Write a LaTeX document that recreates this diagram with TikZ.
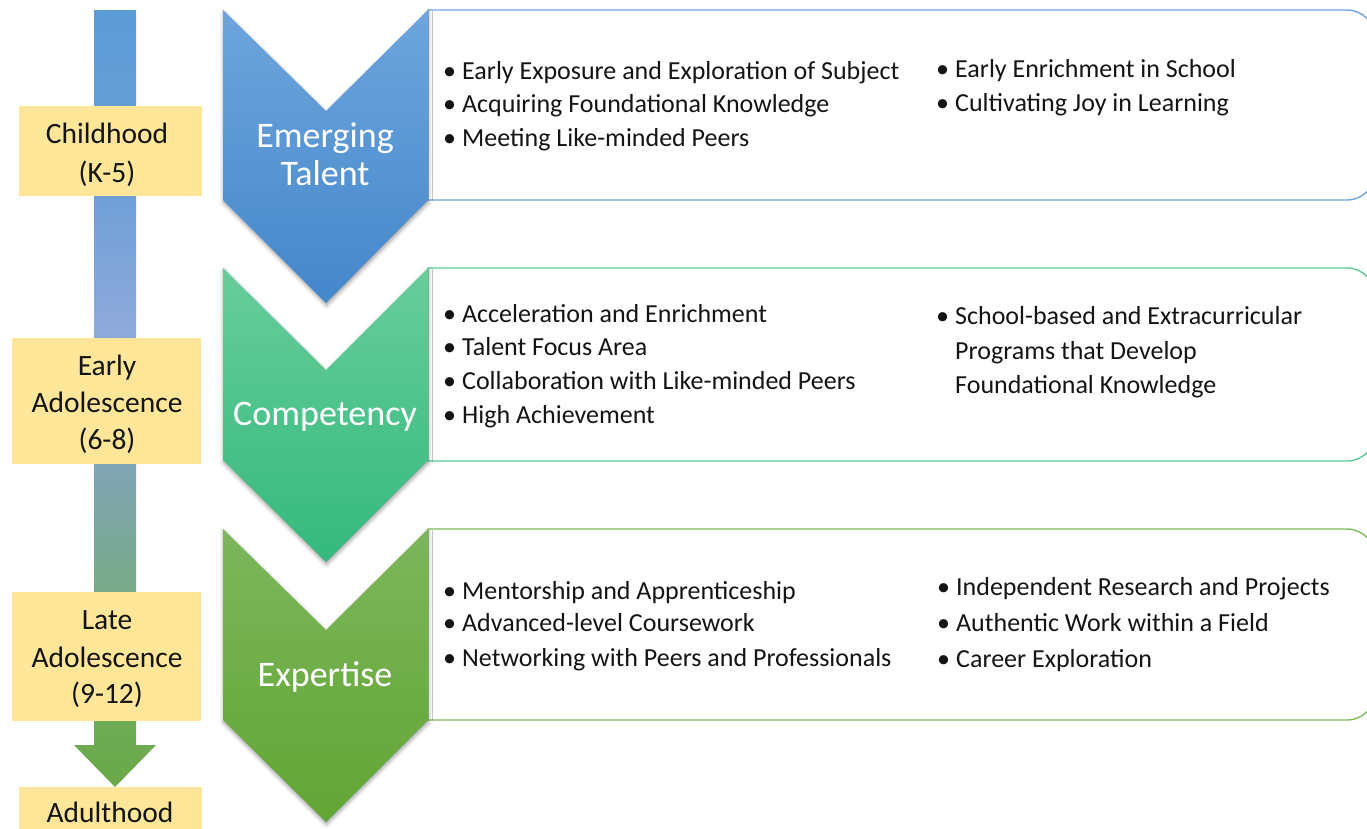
\documentclass[tikz,border=0pt]{standalone}
\usepackage{fontspec}
\setmainfont{Carlito}
\usetikzlibrary{shadows.blur}
\definecolor{barB}{RGB}{91,155,213}
\definecolor{barB2}{RGB}{112,160,215}
\definecolor{barL}{RGB}{142,169,219}
\definecolor{barT}{RGB}{128,165,180}
\definecolor{barTG}{RGB}{122,170,140}
\definecolor{barG2}{RGB}{112,172,90}
\definecolor{barG}{RGB}{106,168,72}
\definecolor{emerTop}{RGB}{110,165,220}
\definecolor{emerBot}{RGB}{68,135,203}
\definecolor{compTop}{RGB}{104,205,155}
\definecolor{compBot}{RGB}{52,185,125}
\definecolor{expTop}{RGB}{125,182,92}
\definecolor{expBot}{RGB}{98,165,52}
\definecolor{emerLine}{RGB}{110,165,220}
\definecolor{compLine}{RGB}{95,200,150}
\definecolor{expLine}{RGB}{125,190,95}
\definecolor{ylw}{RGB}{255,230,153}
\definecolor{txt}{RGB}{20,20,20}
\pgfdeclareverticalshading{barshade}{100bp}{color(0bp)=(barG); color(25bp)=(barG); color(30.6bp)=(barG2); color(38.3bp)=(barTG); color(45.4bp)=(barT); color(54.4bp)=(barL); color(63.1bp)=(barB2); color(75bp)=(barB); color(100bp)=(barB)}
\newcommand\mybullet{\makebox[19pt][l]{•}}
\begin{document}
\begin{tikzpicture}[x=1pt,y=-1pt,
  chev/.style={blur shadow={shadow xshift=0.5pt, shadow yshift=-2.5pt, shadow blur radius=4pt, shadow opacity=40}},
  boxline/.style={line width=1.4pt, fill=white},
  ybox/.style={fill=ylw, draw=none, inner sep=0pt, anchor=north west},
  lbl/.style={font=\fontsize{29.5}{30}\selectfont, text=txt, anchor=base, inner sep=0pt},
  chevtxt/.style={font=\fontsize{36}{36}\selectfont, text=white, anchor=base, inner sep=0pt},
  body/.style={font=\fontsize{26}{26}\selectfont, text=txt, anchor=base west, inner sep=0pt}]
\useasboundingbox (0,0) rectangle (1367,828);
\clip (0,0) rectangle (1367,828);

% timeline arrow
\shade[shading=barshade] (94,10) -- (136,10) -- (136,745) -- (156,745) -- (115,787) -- (74,745) -- (94,745) -- cycle;

% stage boxes
\node[ybox, minimum width=183pt, minimum height=90pt] (childbox) at (19,106) {};
\node[ybox, minimum width=189pt, minimum height=126pt] (earlybox) at (12,338) {};
\node[ybox, minimum width=189pt, minimum height=129pt] (latebox) at (12,592) {};
\node[ybox, minimum width=183pt, minimum height=60pt] (adultbox) at (19,787) {};

\node[lbl] (child1) at (107,143) {Childhood};
\node[lbl] (child2) at (107,182) {(K-5)};
\node[lbl] (early1) at (107,375) {Early};
\node[lbl] (early2) at (107,412) {Adolescence};
\node[lbl] (early3) at (107,449) {(6-8)};
\node[lbl] (late1) at (107,629) {Late};
\node[lbl] (late2) at (107,667) {Adolescence};
\node[lbl] (late3) at (107,703) {(9-12)};
\node[lbl] (adult) at (110,822) {Adulthood};

% content boxes
\draw[boxline, draw=emerLine] (428,10) -- (1347,10) arc(-90:0:28) -- (1375,172) arc(0:90:28) -- (428,200) -- cycle;
\draw[boxline, draw=compLine] (428,268) -- (1347,268) arc(-90:0:28) -- (1375,433) arc(0:90:28) -- (428,461) -- cycle;
\draw[boxline, draw=expLine] (428,529) -- (1347,529) arc(-90:0:28) -- (1375,692) arc(0:90:28) -- (428,720) -- cycle;

% chevrons
\shade[chev, top color=emerTop, bottom color=emerBot] (223,10) -- (326,111) -- (428,10) -- (428,200) -- (326,303) -- (223,200) -- cycle;
\shade[chev, top color=compTop, bottom color=compBot] (223,268) -- (326,370) -- (428,268) -- (428,460) -- (326,562) -- (223,460) -- cycle;
\shade[chev, top color=expTop, bottom color=expBot] (223,529) -- (326,630) -- (428,529) -- (428,720) -- (326,822) -- (223,720) -- cycle;

\node[chevtxt] (emer1) at (325,147) {Emerging};
\node[chevtxt] (emer2) at (325,185) {Talent};
\node[chevtxt] (comp) at (325,425) {Competency};
\node[chevtxt] (expt) at (325,686) {Expertise};

% Emerging talent items
\node[body] (e1) at (443,79) {\mybullet Early Exposure and Exploration of Subject};
\node[body] (e2) at (443,112) {\mybullet Acquiring Foundational Knowledge};
\node[body] (e3) at (443,146) {\mybullet Meeting Like-minded Peers};
\node[body] (e4) at (936,77) {\mybullet Early Enrichment in School};
\node[body] (e5) at (936,111) {\mybullet Cultivating Joy in Learning};

% Competency items
\node[body] (c1) at (443,322) {\mybullet Acceleration and Enrichment};
\node[body] (c2) at (443,355) {\mybullet Talent Focus Area};
\node[body] (c3) at (443,389) {\mybullet Collaboration with Like-minded Peers};
\node[body] (c4) at (443,423) {\mybullet High Achievement};
\node[body] (c5) at (936,324) {\mybullet School-based and Extracurricular};
\node[body] (c6) at (955,359) {Programs that Develop};
\node[body] (c7) at (955,393) {Foundational Knowledge};

% Expertise items
\node[body] (x1) at (443,599) {\mybullet Mentorship and Apprenticeship};
\node[body] (x2) at (443,631) {\mybullet Advanced-level Coursework};
\node[body] (x3) at (443,666) {\mybullet Networking with Peers and Professionals};
\node[body] (x4) at (937,595) {\mybullet Independent Research and Projects};
\node[body] (x5) at (937,631) {\mybullet Authentic Work within a Field};
\node[body] (x6) at (937,667) {\mybullet Career Exploration};
\end{tikzpicture}
\end{document}
